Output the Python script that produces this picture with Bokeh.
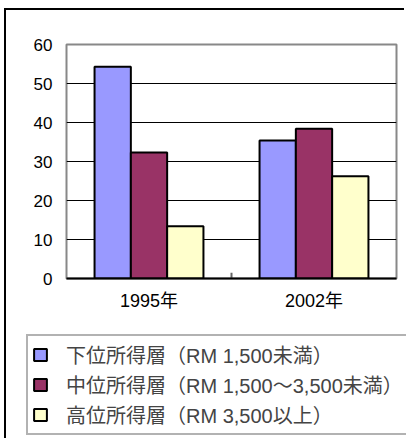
from bokeh.plotting import figure
from bokeh.models import ColumnDataSource, FactorRange, Legend, LegendItem, FixedTicker
from bokeh.transform import dodge
from bokeh.embed import file_html
from bokeh.resources import INLINE

years = ["1995年", "2002年"]
series_names = ["下位所得層（RM 1,500未満）", "中位所得層（RM 1,500〜3,500未満）", "高位所得層（RM 3,500以上）"]
lower = [54.3, 35.4]
middle = [32.3, 38.4]
upper = [13.4, 26.2]
y_ticks = [0, 10, 20, 30, 40, 50, 60]

colors = ["#9999FF", "#993366", "#FFFFCC"]
cols = ["lower", "middle", "upper"]
offsets = [-0.22, 0.0, 0.22]
FONT = "Liberation Sans, Noto Sans CJK JP"

source = ColumnDataSource(data=dict(year=years, lower=lower, middle=middle, upper=upper))

# ---- chart ----
p = figure(
    x_range=FactorRange(factors=years, range_padding=0),
    y_range=(0, 60),
    width=400, height=320,
    output_backend="svg", toolbar_location=None,
    min_border_left=60, min_border_right=10, min_border_top=34, min_border_bottom=52,
)
p.styles = {"margin-left": "4px", "margin-top": "8px", "vertical-align": "top",
            "border-top": "2px solid black", "border-left": "2px solid black"}

for col, off, c in zip(cols, offsets, colors):
    p.vbar(x=dodge("year", off, range=p.x_range), top=col, width=0.22, source=source,
           fill_color=c, line_color="black", line_width=2)

# category separator tick
sep = ColumnDataSource(data=dict(year=[years[0]], y0=[0], y1=[1.5]))
p.segment(x0=dodge("year", 0.5, range=p.x_range), x1=dodge("year", 0.5, range=p.x_range),
          y0="y0", y1="y1", source=sep, line_color="#666666", line_width=2)

p.outline_line_color = "#888888"
p.outline_line_width = 2
p.xgrid.grid_line_color = None
p.ygrid.grid_line_color = "#000000"
p.ygrid.grid_line_width = 1
p.yaxis.ticker = FixedTicker(ticks=y_ticks)
p.yaxis.axis_line_color = None
p.yaxis.major_tick_line_color = None
p.yaxis.minor_tick_line_color = None
p.yaxis.major_tick_out = 0
p.yaxis.major_tick_in = 0
p.yaxis.major_label_standoff = 14
p.xaxis.axis_line_color = "black"
p.xaxis.axis_line_width = 2
p.xaxis.major_tick_line_color = None
p.xaxis.major_tick_out = 0
p.xaxis.major_tick_in = 0
p.xaxis.major_label_standoff = 12
p.yaxis.major_label_text_font_size = "17px"
p.xaxis.major_label_text_font_size = "18px"
for ax in (p.xaxis[0], p.yaxis[0]):
    ax.major_label_text_font = FONT
    ax.major_label_text_color = "black"

# ---- legend strip (separate root, no frame alignment) ----
q = figure(
    x_range=FactorRange(factors=years, range_padding=0),
    y_range=(0, 60),
    width=400, height=110,
    output_backend="svg", toolbar_location=None,
    x_axis_location=None, y_axis_location=None,
    min_border=0,
)
q.styles = {"margin-left": "4px", "margin-bottom": "-30px", "vertical-align": "top",
            "border-left": "2px solid black"}
q.outline_line_color = None
q.grid.grid_line_color = None
legend_renderers = []
for col, off, c in zip(cols, offsets, colors):
    r = q.vbar(x=dodge("year", off, range=q.x_range), top=col, width=0.22, source=source,
               fill_color=c, line_color="black", line_width=2, visible=False)
    legend_renderers.append(r)

legend = Legend(
    items=[LegendItem(label=n, renderers=[r]) for n, r in zip(series_names, legend_renderers)],
    location=(20, 3),
    glyph_width=16, glyph_height=15, label_height=15,
    spacing=1, padding=4, label_standoff=18,
    label_text_font=FONT, label_text_font_size="20px",
    border_line_color="#666666", border_line_width=2,
    background_fill_alpha=0,
    inactive_fill_alpha=0,
    click_policy="none",
)
q.add_layout(legend, "center")

open("out.html", "w").write(file_html([p, q], INLINE))
